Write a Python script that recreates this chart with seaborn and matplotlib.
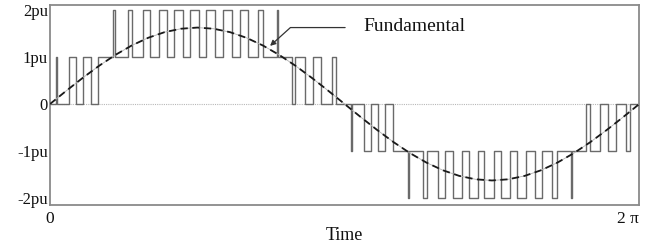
import matplotlib
matplotlib.use("Agg")
import matplotlib.pyplot as plt
import seaborn as sns
import pandas as pd

# ---- data (time in degrees of one fundamental cycle) ----
# switching instants of the multilevel PWM output and the level after each switch
switch_deg = [
    3.85, 4.58, 11.91, 16.19, 20.16, 24.86, 29.51,
    38.79, 39.59, 47.83, 50.40, 56.94, 61.39, 66.34, 71.47, 75.75, 81.37,
    85.40, 91.15, 95.30, 101.04, 105.56, 111.06, 116.19, 120.71, 126.82,
    129.88, 138.43, 139.04,
    147.71, 149.67, 156.08, 160.97, 165.86, 172.15, 174.59,
    183.85, 184.58, 191.91, 196.19, 200.16, 204.86, 209.51,
    218.79, 219.59, 227.83, 230.40, 236.94, 241.39, 246.34, 251.47, 255.75,
    261.37, 265.40, 271.15, 275.30, 281.04, 285.56, 291.06, 296.19, 300.71,
    306.82, 309.88, 318.43, 319.04,
    327.71, 329.67, 336.08, 340.97, 345.86, 352.15, 354.59,
]
switch_level = [
    1, 0, 1, 0, 1, 0, 1,
    2, 1, 2, 1, 2, 1, 2, 1, 2, 1,
    2, 1, 2, 1, 2, 1, 2, 1, 2,
    1, 2, 1,
    0, 1, 0, 1, 0, 1, 0,
    -1, 0, -1, 0, -1, 0, -1,
    -2, -1, -2, -1, -2, -1, -2, -1, -2,
    -1, -2, -1, -2, -1, -2, -1, -2, -1,
    -2, -1, -2, -1,
    0, -1, 0, -1, 0, -1, 0,
]

# fundamental (dashed) read every 10 degrees
fund_deg = [0, 10, 20, 30, 40, 50, 60, 70, 80, 90, 100, 110, 120, 130, 140, 150,
            160, 170, 180, 190, 200, 210, 220, 230, 240, 250, 260, 270, 280, 290,
            300, 310, 320, 330, 340, 350, 360]
fund_pu = [0.0, 0.283, 0.557, 0.815, 1.048, 1.249, 1.412, 1.532, 1.605, 1.63,
           1.605, 1.532, 1.412, 1.249, 1.048, 0.815, 0.557, 0.283, 0.0,
           -0.283, -0.557, -0.815, -1.048, -1.249, -1.412, -1.532, -1.605, -1.63,
           -1.605, -1.532, -1.412, -1.249, -1.048, -0.815, -0.557, -0.283, 0.0]

ytick_vals = [-2, -1, 0, 1, 2]
ytick_labels = ["-2pu", "-1pu", "0", "1pu", "2pu"]
xtick_vals = [0, 360]
xtick_labels = ["0", "2 π"]
x_label = "Time"
annot_text = "Fundamental"

# ---- build tables ----
wave = pd.DataFrame({
    "t": [0] + switch_deg + [360],
    "v": [0] + switch_level + [switch_level[-1]],
})
fund = pd.DataFrame({"t": fund_deg, "v": fund_pu})

sns.set_theme(style="white")
plt.rcParams["font.family"] = ["Liberation Serif", "DejaVu Serif"]

fig = plt.figure(figsize=(6.49, 2.44), dpi=100)
ax = fig.add_axes([0.077, 0.1598, 0.908, 0.8197])

ax.axhline(0, color="#b8b8b8", lw=0.8, ls=(0, (1, 1)), zorder=1)

sns.lineplot(data=wave, x="t", y="v", drawstyle="steps-post", estimator=None,
             sort=False, color="#6a6a6a", lw=1.0, ax=ax, zorder=2)
sns.lineplot(data=fund, x="t", y="v", estimator=None, sort=False,
             color="#b0b0b0", lw=0.6, ax=ax, zorder=3)
sns.lineplot(data=fund, x="t", y="v", estimator=None, sort=False,
             color="#1a1a1a", lw=1.3, dashes=False, ax=ax, zorder=4,
             linestyle=(0, (4, 2.5)))

ax.set_xlim(0, 360)
ax.set_ylim(-2.153, 2.111)

ax.set_yticks(ytick_vals)
ax.set_yticklabels(ytick_labels, fontsize=12)
ax.set_xticks(xtick_vals)
ax.set_xticklabels(xtick_labels, fontsize=12.5)
ax.get_xticklabels()[-1].set_horizontalalignment("right")
ax.tick_params(axis="both", length=0, colors="#111111")
ax.tick_params(axis="y", pad=1.5)
ax.tick_params(axis="x", pad=4.5)
ax.set_xlabel(x_label, fontsize=13, labelpad=0, color="#111111")
ax.set_ylabel("")

for s in ax.spines.values():
    s.set_color("#8a8a8a")
    s.set_linewidth(1.3)

ax.annotate("", xy=(133.2, 1.20), xytext=(182.0, 1.63),
            arrowprops=dict(arrowstyle="-|>", color="#333333", lw=0.9,
                            mutation_scale=8,
                            connectionstyle="angle,angleA=0,angleB=42,rad=0"),
            zorder=5)
ax.text(191.2, 1.66, annot_text, fontsize=14, ha="left", va="center",
        color="#111111")

fig.savefig("out.png", dpi=100)
